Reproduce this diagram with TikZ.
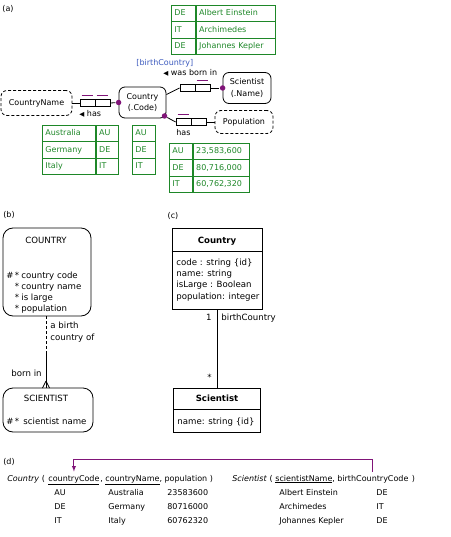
\documentclass[tikz,border=0pt]{standalone}
\usepackage{fontspec}
\setmainfont{DejaVu Sans}
\definecolor{tgreen}{RGB}{30,135,40}
\definecolor{rpurple}{RGB}{128,20,120}
\definecolor{rblue}{RGB}{60,90,190}
\begin{document}
\begin{tikzpicture}[x=1pt, y=-1pt, line width=0.8pt,
  txt/.style={inner sep=1pt, font=\fontsize{8}{9.6}\selectfont, text height=6pt, text depth=1.5pt},
  btxt/.style={inner sep=1pt, font=\fontsize{8.6}{10}\selectfont, text height=6.3pt, text depth=1.6pt},
  obj/.style={draw, rounded corners=6pt, align=center, inner sep=1pt, font=\fontsize{8}{11.5}\selectfont},
  valobj/.style={obj, dash pattern=on 3pt off 2pt},
  role/.style={draw, minimum width=15pt, minimum height=7.5pt, inner sep=0pt},
  bar/.style={draw=rpurple, line width=0.9pt},
  dot/.style={circle, fill=rpurple, inner sep=0pt, minimum size=5.5pt},
  cell/.style={draw=tgreen, text=tgreen, anchor=north west, align=left, inner xsep=3pt, inner ysep=0pt,
    minimum height=16.5pt, font=\fontsize{8}{9.6}\selectfont, text height=6pt, text depth=1.5pt},
  ent/.style={draw, rounded corners=10pt},
  cls/.style={draw},
  rel/.style={anchor=base west, inner xsep=0pt, inner ysep=3pt, font=\fontsize{8}{9.6}\selectfont, text height=6pt, text depth=1.5pt},
  fk/.style={draw=rpurple, line width=0.9pt, -latex}]

\useasboundingbox (0,0) rectangle (450,537);

% (a) ORM schema with sample populations
\node[txt] (la) at (8,9) {(a)};

\foreach \c/\n [count=\i from 0] in {DE/Albert Einstein, IT/Archimedes, DE/Johannes Kepler} {
  \node[cell, text width=18pt] (sc\i) at (171,5+16.5*\i) {\c};
  \node[cell, text width=73pt] (sn\i) at (sc\i.north east) {\n};
}

\node[obj, minimum width=47pt, minimum height=31pt] (country) at (142.5,102.5) {Country\\(.Code)};
\node[obj, minimum width=48pt, minimum height=31pt] (scientist) at (247,88) {Scientist\\(.Name)};
\node[valobj, minimum width=71pt, minimum height=25pt] (cname) at (36.5,103) {CountryName};
\node[valobj, minimum width=58pt, minimum height=23pt] (pop) at (244,122) {Population};

% Country has CountryName
\node[role] (hn1) at (87.5,103) {};
\node[role] (hn2) at (102.5,103) {};
\node[dot] (dn) at (country.west) {};
\draw (cname.east) -- (hn1.west);
\draw (hn2.east) -- (dn);
\draw[bar] ([xshift=2pt,yshift=3.3pt]hn1.north west) -- ([xshift=-2pt,yshift=3.3pt]hn1.north east);
\draw[bar] ([xshift=2pt,yshift=3.3pt]hn2.north west) -- ([xshift=-2pt,yshift=3.3pt]hn2.north east);
\node[txt, anchor=west] (hl) at (78,114) {{\fontsize{6.5}{6}\selectfont ◀} has};

% Scientist was born in Country
\node[role] (bn1) at (187.5,88) {};
\node[role] (bn2) at (202.5,88) {};
\node[dot] (db) at (scientist.west) {};
\draw ([yshift=8pt]country.east) -- (bn1.west);
\draw (bn2.east) -- (db);
\draw[bar] ([xshift=2pt,yshift=3.3pt]bn2.north west) -- ([xshift=-2pt,yshift=3.3pt]bn2.north east);
\node[txt, anchor=west] (bl) at (162,73) {{\fontsize{6.5}{6}\selectfont ◀} was born in};
\node[txt, anchor=west, text=rblue] (rn) at (135,63) {[birthCountry]};

% Country has Population
\node[role] (pn1) at (183.5,122) {};
\node[role] (pn2) at (198.5,122) {};
\node[dot] (dp) at (164.5,116) {};
\draw (dp) -- (pn1.west);
\draw (pn2.east) -- (pop.west);
\draw[bar] ([xshift=2pt,yshift=3.3pt]pn1.north west) -- ([xshift=-2pt,yshift=3.3pt]pn1.north east);
\node[txt, anchor=west] (pl) at (175,133) {has};

\foreach \n/\c [count=\i from 0] in {Australia/AU, Germany/DE, Italy/IT} {
  \node[cell, text width=47pt] (nn\i) at (42,125+16.5*\i) {\n};
  \node[cell, text width=16pt] (nc\i) at (nn\i.north east) {\c};
  \node[cell, text width=17pt] (cc\i) at (132,125+16.5*\i) {\c};
}
\foreach \c/\p [count=\i from 0] in {AU/{23,583,600}, DE/{80,716,000}, IT/{60,762,320}} {
  \node[cell, text width=17pt] (pc\i) at (169,143+16.5*\i) {\c};
  \node[cell, text width=50pt] (pp\i) at (pc\i.north east) {\p};
}

% (b) Barker ER
\node[txt] (lb) at (9,215) {(b)};
\node[ent, minimum width=88pt, minimum height=88pt] (bcountry) at (47,272) {};
\node[btxt] (bch) at (46,241) {COUNTRY};
\node[btxt, anchor=west] (bhash) at (5,276) {\#};
\foreach \a [count=\i from 0] in {country code, country name, is large, population} {
  \node[btxt, anchor=west] (bs\i) at (13.5,276+11*\i) {*};
  \node[btxt, anchor=west] (ba\i) at (20,276+11*\i) {\a};
}
\node[ent, minimum width=90pt, minimum height=44pt] (bsci) at (48,410) {};
\node[btxt] (bsh) at (46,399) {SCIENTIST};
\node[btxt, anchor=west] (bshash) at (5,422) {\#};
\node[btxt, anchor=west] (bss) at (13.5,422) {*};
\node[btxt, anchor=west] (bsa) at (22,422) {scientist name};
\coordinate (bmid) at (46,352);
\coordinate (bfoot) at (46,381);
\draw[dash pattern=on 3pt off 2pt] (bcountry.south -| bmid) -- (bmid);
\draw (bmid) -- (bsci.north -| bmid);
\draw (bfoot) -- ++(-3.5,7) (bfoot) -- ++(3.5,7);
\node[btxt, anchor=west] (br1) at (49,326) {a birth};
\node[btxt, anchor=west] (br2) at (49,338) {country of};
\node[btxt, anchor=east] (br3) at (43,374) {born in};

% (c) UML class diagram
\node[txt] (lc) at (173,216) {(c)};
\node[cls, minimum width=90pt, minimum height=81pt] (ccountry) at (217,268.5) {};
\draw ([yshift=-24pt]ccountry.north west) -- ([yshift=-24pt]ccountry.north east);
\node[btxt] (cch) at (217,241) {\textbf{Country}};
\foreach \a [count=\i from 0] in {code : string \{id\}, name: string, isLarge : Boolean, population: integer} {
  \node[btxt, anchor=west] (ca\i) at (175,263+11.3*\i) {\a};
}
\node[cls, minimum width=87pt, minimum height=44pt] (csci) at (217,410) {};
\draw ([yshift=-22pt]csci.north west) -- ([yshift=-22pt]csci.north east);
\node[btxt] (csh) at (217,399) {\textbf{Scientist}};
\node[btxt, anchor=west] (csa) at (176,422) {name: string \{id\}};
\draw (ccountry.south) -- (csci.north);
\node[btxt, anchor=east] (cm1) at (213,318) {1};
\node[btxt, anchor=west] (crole) at (220,318) {birthCountry};
\node[btxt, anchor=east] (cm2) at (213,378) {*};

% (d) relational schema
\node[txt] (ld) at (9,462) {(d)};
\node[rel] (crel) at (7,481) {\textit{Country} (};
\node[rel] (ccode) at (48,481) {\underline{countryCode}};
\node[rel] (crest) at (ccode.base east) {, \underline{countryName}, population )};
\node[rel] (srel) at (232,481) {\textit{Scientist} (};
\node[rel] (sname) at (275,481) {\underline{scientistName},};
\node[rel] (bcode) at (337,481) {birthCountryCode};
\node[rel] (send) at (bcode.base east) {\ )};
\draw[fk] (bcode.north) -- ++(0,-12) -| (ccode.north);
\foreach \c/\n/\p [count=\i] in {AU/Australia/23583600, DE/Germany/80716000, IT/Italy/60762320} {
  \node[rel] (dc\i) at (54,481+14*\i) {\c};
  \node[rel] (dn\i) at (108,481+14*\i) {\n};
  \node[rel] (dp\i) at (167,481+14*\i) {\p};
}
\foreach \n/\c [count=\i] in {Albert Einstein/DE, Archimedes/IT, Johannes Kepler/DE} {
  \node[rel] (ds\i) at (279,481+14*\i) {\n};
  \node[rel] (dk\i) at (376,481+14*\i) {\c};
}

\end{tikzpicture}
\end{document}
